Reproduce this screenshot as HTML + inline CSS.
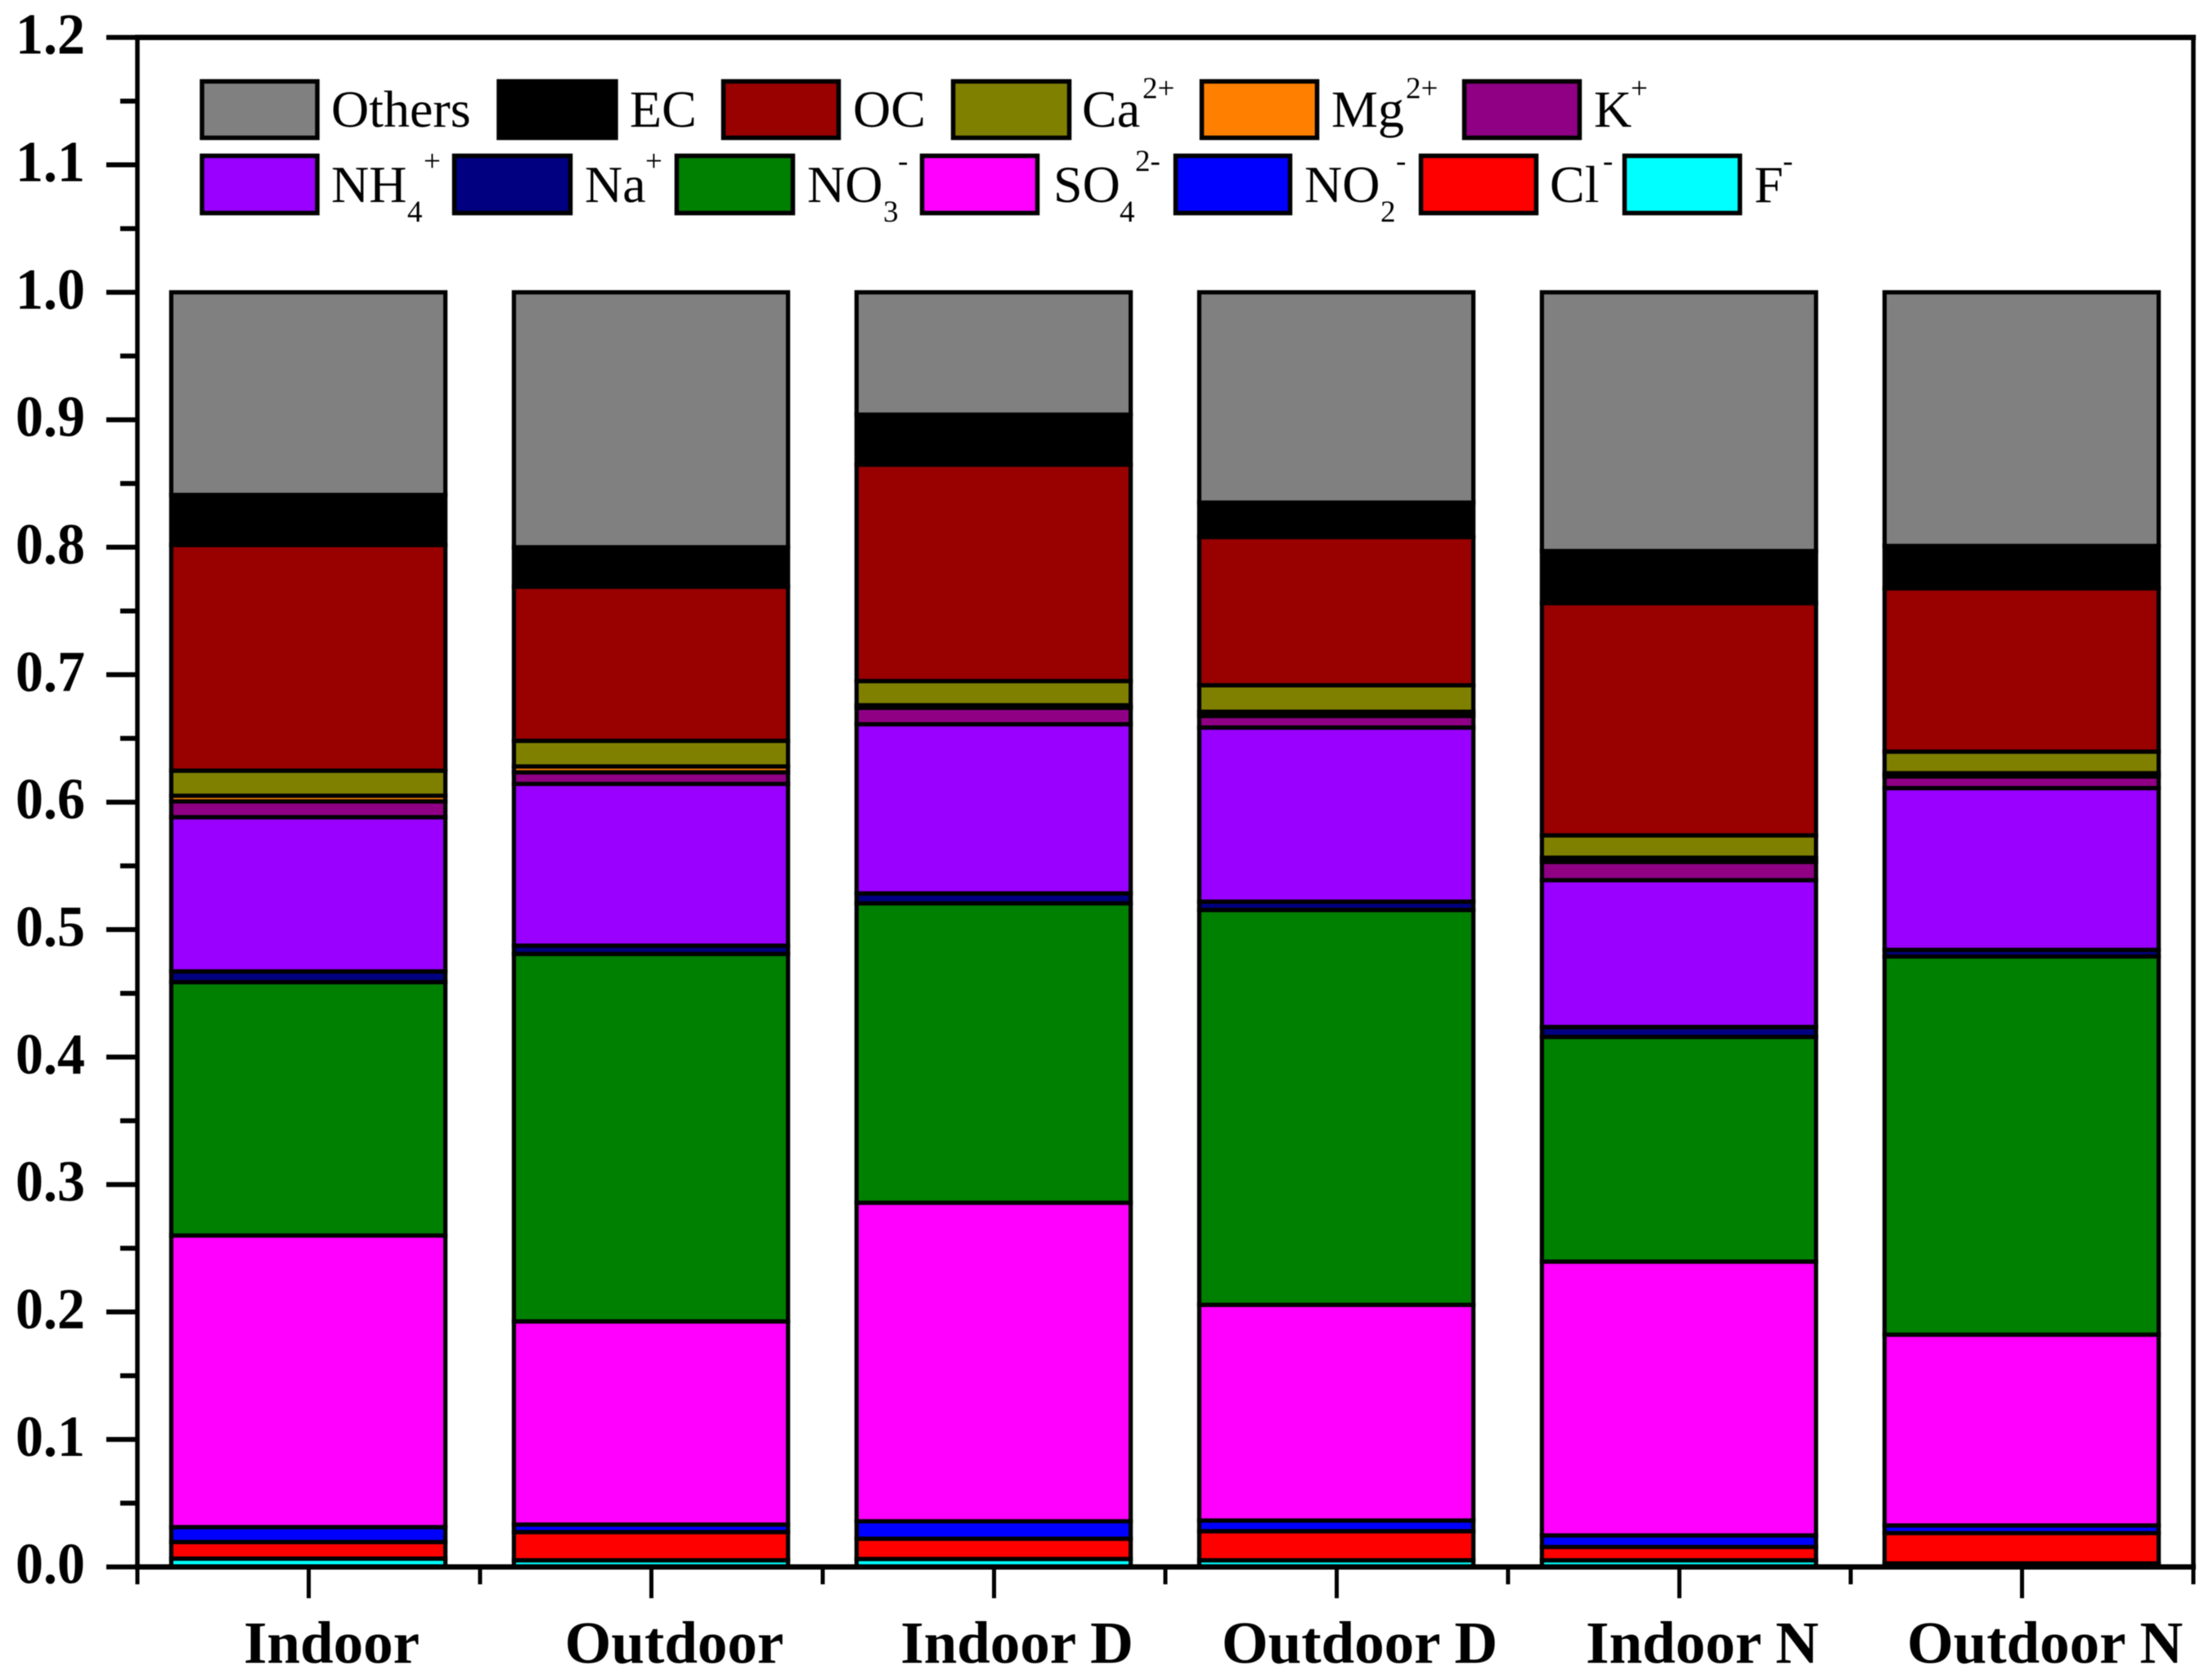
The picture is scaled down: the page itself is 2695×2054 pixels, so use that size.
<!DOCTYPE html>
<html lang="en">
<head>
<meta charset="utf-8">
<title>Stacked composition chart</title>
<style>
html,body{margin:0;padding:0;background:#fff;}
svg{display:block;filter:blur(0.6px);}
text{font-family:"Liberation Serif",serif;fill:#000;}
.lg{font-size:64px;}
.sc{font-size:37px;}
.tick{font-size:71px;font-weight:bold;}
.cat{font-size:73px;font-weight:bold;text-anchor:middle;}
</style>
</head>
<body>
<svg id="chart" xmlns="http://www.w3.org/2000/svg" width="2695" height="2054" viewBox="0 0 2695 2054">
<rect x="0" y="0" width="2695" height="2054" fill="#fff"/>
<g id="bars"></g>
<g id="axes"></g>
<g id="legend" stroke-linejoin="miter">
  <g><rect x="247" y="99.5" width="141" height="69" fill="#808080" stroke="#000" stroke-width="5.5"/><text class="lg" x="405" y="155">Others</text></g>
  <g><rect x="610" y="99.5" width="143" height="69" fill="#000" stroke="#000" stroke-width="5.5"/><text class="lg" x="770" y="155">EC</text></g>
  <g><rect x="884.500" y="99.5" width="141" height="69" fill="#990000" stroke="#000" stroke-width="5.5"/><text class="lg" x="1043" y="155">OC</text></g>
  <g><rect x="1165.500" y="99.5" width="142" height="69" fill="#808000" stroke="#000" stroke-width="5.5"/><text class="lg" x="1323" y="155">Ca</text><text class="sc" x="1397" y="120">2+</text></g>
  <g><rect x="1469.500" y="99.5" width="141" height="69" fill="#ff8000" stroke="#000" stroke-width="5.5"/><text class="lg" x="1628" y="155">Mg</text><text class="sc" x="1719" y="120">2+</text></g>
  <g><rect x="1790.500" y="99.5" width="141" height="69" fill="#8f0085" stroke="#000" stroke-width="5.5"/><text class="lg" x="1949" y="155">K</text><text class="sc" x="1994" y="120">+</text></g>

  <g><rect x="247" y="190.500" width="141" height="70" fill="#9900ff" stroke="#000" stroke-width="5.5"/><text class="lg" x="405" y="247">NH</text><text class="sc" x="498" y="271">4</text><text class="sc" x="518" y="209">+</text></g>
  <g><rect x="555.500" y="190.500" width="142" height="70" fill="#000080" stroke="#000" stroke-width="5.5"/><text class="lg" x="715" y="247">Na</text><text class="sc" x="789" y="209">+</text></g>
  <g><rect x="827.500" y="190.500" width="142" height="70" fill="#008000" stroke="#000" stroke-width="5.5"/><text class="lg" x="987" y="247">NO</text><text class="sc" x="1080" y="271">3</text><text class="sc" x="1098" y="209">-</text></g>
  <g><rect x="1127.500" y="190.500" width="141" height="70" fill="#ff00ff" stroke="#000" stroke-width="5.5"/><text class="lg" x="1288" y="247">SO</text><text class="sc" x="1369" y="271">4</text><text class="sc" x="1388" y="209">2-</text></g>
  <g><rect x="1437.500" y="190.500" width="140" height="70" fill="#0000ff" stroke="#000" stroke-width="5.5"/><text class="lg" x="1595" y="247">NO</text><text class="sc" x="1688" y="271">2</text><text class="sc" x="1707" y="209">-</text></g>
  <g><rect x="1737.500" y="190.500" width="141" height="70" fill="#ff0000" stroke="#000" stroke-width="5.5"/><text class="lg" x="1895" y="247">Cl</text><text class="sc" x="1960" y="209">-</text></g>
  <g><rect x="1986.500" y="190.500" width="141" height="70" fill="#00ffff" stroke="#000" stroke-width="5.5"/><text class="lg" x="2145" y="247">F</text><text class="sc" x="2180" y="209">-</text></g>
</g>
</svg>
<script>
const categories = ["Indoor", "Outdoor", "Indoor D", "Outdoor D", "Indoor N", "Outdoor N"];
const yTickLabels = ["0.0", "0.1", "0.2", "0.3", "0.4", "0.5", "0.6", "0.7", "0.8", "0.9", "1.0", "1.1", "1.2"];
const seriesF = [0.0065, 0.0052, 0.0062, 0.0052, 0.0052, 0.0027];
const seriesCl = [0.0130, 0.0221, 0.0159, 0.0228, 0.0104, 0.0238];
const seriesNO2 = [0.0117, 0.0059, 0.0137, 0.0084, 0.0091, 0.0060];
const seriesSO4 = [0.2288, 0.1594, 0.2499, 0.1692, 0.2148, 0.1497];
const seriesNO3 = [0.1988, 0.2883, 0.2349, 0.3098, 0.1763, 0.2967];
const seriesNa = [0.0084, 0.0065, 0.0078, 0.0065, 0.0078, 0.0052];
const seriesNH4 = [0.1210, 0.1269, 0.1327, 0.1366, 0.1152, 0.1269];
const seriesK = [0.0124, 0.0091, 0.0129, 0.0091, 0.0143, 0.0091];
const seriesMg = [0.0044, 0.0046, 0.0020, 0.0033, 0.0033, 0.0026];
const seriesCa = [0.0197, 0.0201, 0.0190, 0.0208, 0.0175, 0.0169];
const seriesOC = [0.1770, 0.1209, 0.1698, 0.1163, 0.1822, 0.1282];
const seriesEC = [0.0393, 0.0310, 0.0392, 0.0270, 0.0409, 0.0332];
const seriesOthers = [0.1590, 0.2000, 0.0960, 0.1650, 0.2030, 0.1990];

const stackOrder = [
  ["f", seriesF, "#00ffff"],
  ["cl", seriesCl, "#ff0000"],
  ["no2", seriesNO2, "#0000ff"],
  ["so4", seriesSO4, "#ff00ff"],
  ["no3", seriesNO3, "#008000"],
  ["na", seriesNa, "#000080"],
  ["nh4", seriesNH4, "#9900ff"],
  ["k", seriesK, "#8f0085"],
  ["mg", seriesMg, "#ff8000"],
  ["ca", seriesCa, "#808000"],
  ["oc", seriesOC, "#990000"],
  ["ec", seriesEC, "#000000"],
  ["others", seriesOthers, "#808080"]
];

const NS = "http://www.w3.org/2000/svg";
const plotLeft = 168, plotRight = 2682, plotTop = 45.7, plotBottom = 1915.7;
const yMax = 1.2;
const band = (plotRight - plotLeft) / categories.length;
function yScale(v) { return plotBottom - (v / yMax) * (plotBottom - plotTop); }
function xBand(i) { return plotLeft + band * i; }
function xCenter(i) { return xBand(i) + band / 2; }

const barsGroup = document.getElementById("bars");
const axesGroup = document.getElementById("axes");

function make(tag, attrs) {
  const el = document.createElementNS(NS, tag);
  for (const k in attrs) el.setAttribute(k, attrs[k]);
  return el;
}

categories.forEach(function (cat, i) {
  const barWidth = band * 0.8;
  const x = xCenter(i) - barWidth / 2 - 0.5;
  let cum = 0;
  stackOrder.forEach(function (s) {
    const v = s[1][i];
    const yTop = yScale(cum + v);
    const yBot = yScale(cum);
    const r = make("rect", { x: x, y: yTop, width: barWidth, height: yBot - yTop, fill: s[2], stroke: "#000", "stroke-width": 5.2 });
    
    
    barsGroup.appendChild(r);
    cum += v;
  });
});

function axisLine(x1, y1, x2, y2, w, name) {
  const l = make("line", { x1: x1, y1: y1, x2: x2, y2: y2, stroke: "#000", "stroke-width": w });
  
  
  axesGroup.appendChild(l);
}

axisLine(plotLeft, plotTop - 3, plotLeft, plotBottom + 3, 5.5, 'y-axis-line');
axisLine(plotRight, plotTop - 3, plotRight, plotBottom + 3, 5.5, 'right-border-line');
axisLine(plotLeft - 3, plotTop, plotRight + 3, plotTop, 6.5, 'top-border-line');
axisLine(plotLeft - 3, plotBottom, plotRight + 3, plotBottom, 6.5, 'x-axis-line');

yTickLabels.forEach(function (label, i) {
  const v = parseFloat(label);
  const y = yScale(v);
  axisLine(130, y, plotLeft, y, 6, 'y-major-tick-' + label);
  if (i < yTickLabels.length - 1) {
    const ym = yScale(v + 0.05);
    axisLine(147, ym, plotLeft, ym, 6, 'y-minor-tick-' + label);
  }
  const t = make("text", { x: 19, y: y + 20, class: "tick", textLength: 85, lengthAdjust: "spacingAndGlyphs" });
  
  
  t.textContent = label;
  axesGroup.appendChild(t);
});

for (let i = 0; i <= categories.length; i++) {
  axisLine(xBand(i), plotBottom, xBand(i), 1937, 5, 'x-minor-tick-' + i);
}

categories.forEach(function (cat, i) {
  axisLine(xCenter(i), plotBottom, xCenter(i), 1954, 5, 'x-major-tick-' + (i + 1));
  const t = make("text", { x: xCenter(i) + 28, y: 2033, class: "cat" });
  
  
  t.textContent = cat;
  axesGroup.appendChild(t);
});
</script>
</body>
</html>
